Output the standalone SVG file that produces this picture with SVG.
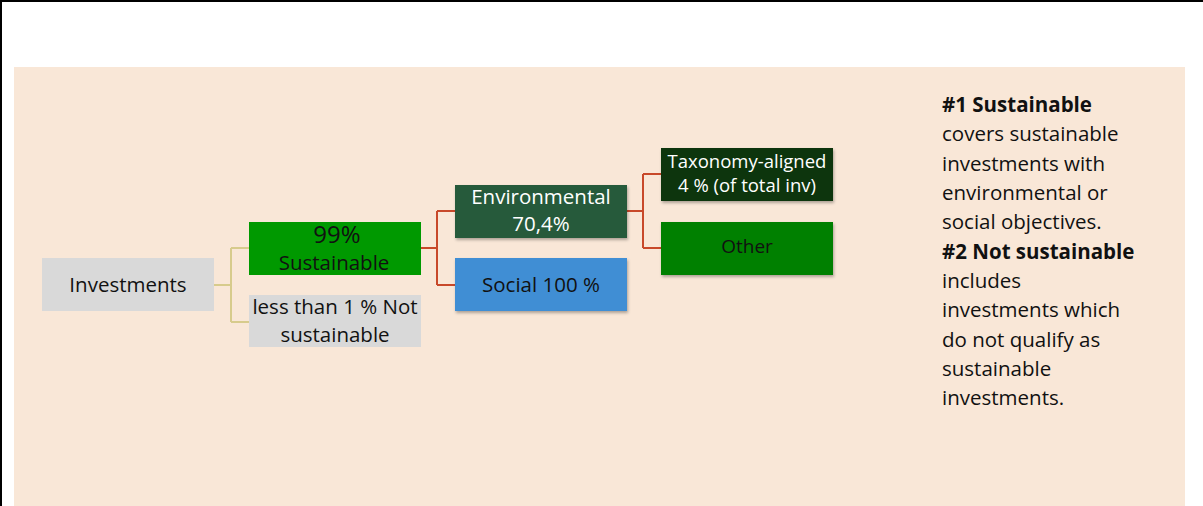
<svg xmlns="http://www.w3.org/2000/svg" width="1203" height="506" viewBox="0 0 1203 506">
<defs>
<filter id="sh" x="-10%" y="-10%" width="130%" height="140%">
<feDropShadow dx="1" dy="2" stdDeviation="1.5" flood-color="#000" flood-opacity="0.3"/>
</filter>
<style>
.t{font-family:"Open Sans","Liberation Sans",sans-serif;text-anchor:middle;}
.d{font-size:20.5px;fill:#111;}
.w{fill:#fff;}
.side{font-family:"Open Sans","Liberation Sans",sans-serif;font-size:20.5px;fill:#111;}
.b{font-weight:bold;}
.cy{fill:none;stroke:#D7CB8C;stroke-width:2;}
.cr{fill:none;stroke:#C8492A;stroke-width:2;}
</style>
</defs>
<rect x="0" y="0" width="1203" height="506" fill="#fff"/>
<rect x="14" y="67" width="1171" height="439" fill="#F9E7D7"/>
<path d="M1 506 V1 H1203" fill="none" stroke="#000" stroke-width="2"/>
<g id="connectors">
<path class="cy" d="M214 285 H231 M231 248 V322 M231 248 H249 M231 322 H249"/>
<path class="cr" d="M421 248 H437 M437 211 V285 M437 211 H455 M437 285 H455"/>
<path class="cr" d="M627 211 H643 M643 174 V248 M643 174 H661 M643 248 H661"/>
</g>
<g id="investments">
<rect x="42" y="258" width="172" height="53" fill="#D9D9D9"/>
<text class="t d" x="128" y="292">Investments</text>
</g>
<g id="sustainable">
<rect x="249" y="222" width="172" height="53" fill="#009900"/>
<text class="t d" x="337" y="243" style="font-size:24px">99%</text>
<text class="t d" x="334" y="270">Sustainable</text>
</g>
<g id="not-sustainable">
<rect x="249" y="295" width="172" height="52" fill="#D9D9D9"/>
<text class="t d" x="335" y="314">less than 1 % Not</text>
<text class="t d" x="335" y="342">sustainable</text>
</g>
<g id="environmental">
<rect x="455" y="185" width="172" height="53" fill="#265A3B" filter="url(#sh)"/>
<text class="t d w" x="541" y="204">Environmental</text>
<text class="t d w" x="541" y="231">70,4%</text>
</g>
<g id="social">
<rect x="455" y="258" width="172" height="53" fill="#3F8ED4" filter="url(#sh)"/>
<text class="t d" x="541" y="292">Social 100 %</text>
</g>
<g id="taxonomy">
<rect x="661" y="148" width="172" height="53" fill="#0A360A" filter="url(#sh)"/>
<text class="t w" x="747" y="168" font-size="18.5">Taxonomy-aligned</text>
<text class="t w" x="747" y="192" font-size="18.5">4 % (of total inv)</text>
</g>
<g id="other">
<rect x="661" y="222" width="172" height="53" fill="#008000" filter="url(#sh)"/>
<text class="t d" x="747" y="253" style="font-size:19px">Other</text>
</g>
<g id="legend">
<text class="side" x="942"><tspan x="942" y="112" class="b">#1 Sustainable</tspan><tspan x="942" y="141">covers sustainable</tspan><tspan x="942" y="171">investments with</tspan><tspan x="942" y="200">environmental or</tspan><tspan x="942" y="229">social objectives.</tspan><tspan x="942" y="259" class="b">#2 Not sustainable</tspan><tspan x="942" y="288">includes</tspan><tspan x="942" y="317">investments which</tspan><tspan x="942" y="347">do not qualify as</tspan><tspan x="942" y="376">sustainable</tspan><tspan x="942" y="405">investments.</tspan></text>
</g>
</svg>
